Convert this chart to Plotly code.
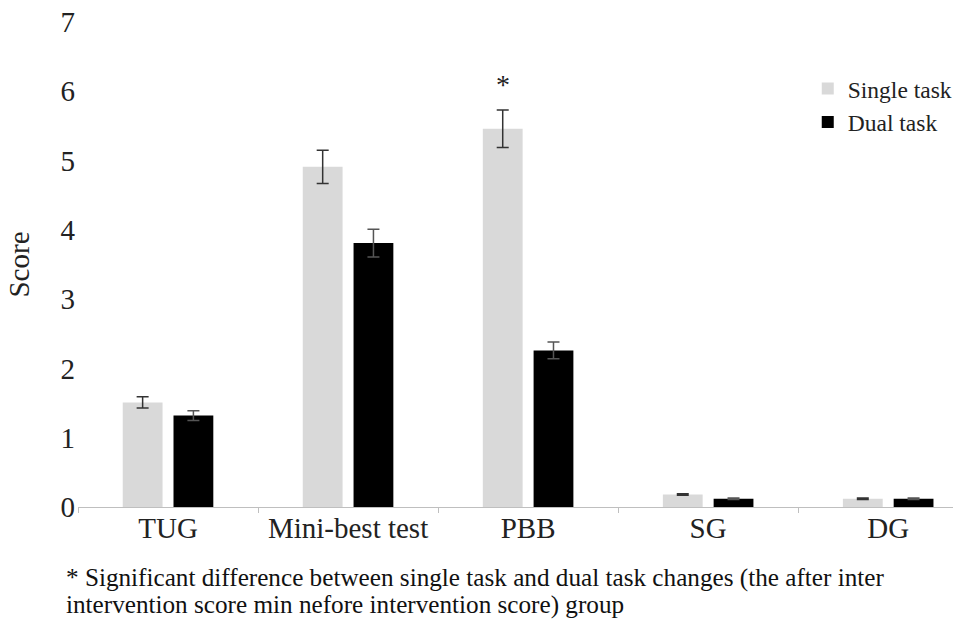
import plotly.graph_objects as go

categories = ["TUG", "Mini-best test", "PBB", "SG", "DG"]
single_task = [1.51, 4.91, 5.46, 0.18, 0.12]
single_err = [0.08, 0.24, 0.27, 0.01, 0.01]
dual_task = [1.32, 3.81, 2.26, 0.12, 0.12]
dual_err = [0.07, 0.20, 0.12, 0.01, 0.01]
y_ticks = [0, 1, 2, 3, 4, 5, 6, 7]
footnote_lines = [
    "* Significant difference between single task and dual task changes (the after inter",
    "intervention score min nefore intervention score) group",
]

FONT = "Liberation Serif, Times New Roman, serif"

fig = go.Figure()
fig.add_trace(go.Bar(
    name="Single task", x=categories, y=single_task,
    marker=dict(color="#d9d9d9", line=dict(width=0)),
    error_y=dict(type="data", array=single_err, color="#333333", thickness=1.5, width=6),
))
fig.add_trace(go.Bar(
    name="Dual task", x=categories, y=dual_task,
    marker=dict(color="#000000", line=dict(width=0)),
    error_y=dict(type="data", array=dual_err, color="#555555", thickness=1.5, width=6),
))

fig.add_annotation(x="PBB", y=6.1, text="*", showarrow=False, xshift=-25,
                   font=dict(family=FONT, size=28, color="#222"))
for line, py in zip(footnote_lines, [-0.146, -0.202]):
    fig.add_annotation(xref="paper", yref="paper", x=-0.016, y=py, xanchor="left", yanchor="middle",
                       align="left", text=line, showarrow=False,
                       font=dict(family=FONT, size=25.2, color="#111"))

fig.update_layout(
    width=958, height=621,
    margin=dict(l=78, r=0, t=22, b=114),
    paper_bgcolor="white", plot_bgcolor="white",
    barmode="group", bargap=0.436, bargroupgap=0.216,
    font=dict(family=FONT, size=29, color="#222"),
    showlegend=True,
    legend=dict(x=0.834, y=0.908, xanchor="left", yanchor="top",
                font=dict(family=FONT, size=23.5, color="#222"),
                bgcolor="rgba(0,0,0,0)", itemwidth=30, tracegroupgap=0),
    xaxis=dict(range=[-0.5, 4.36], showline=True, linecolor="#bfbfbf", linewidth=1,
               ticks="outside", tickson="boundaries", ticklen=5, tickcolor="#bfbfbf",
               ticklabelstandoff=-5,
               showgrid=False, tickfont=dict(family=FONT, size=29, color="#222")),
    yaxis=dict(range=[0, 7], tickvals=y_ticks, showgrid=False, zeroline=False,
               showline=False, ticks="", ticklabelstandoff=2,
               title=dict(text="Score", font=dict(family=FONT, size=29, color="#222"), standoff=22),
               tickfont=dict(family=FONT, size=29, color="#222")),
)

fig.write_html("out.html", config={"displayModeBar": False},
               post_script="document.body.style.margin='0';")
